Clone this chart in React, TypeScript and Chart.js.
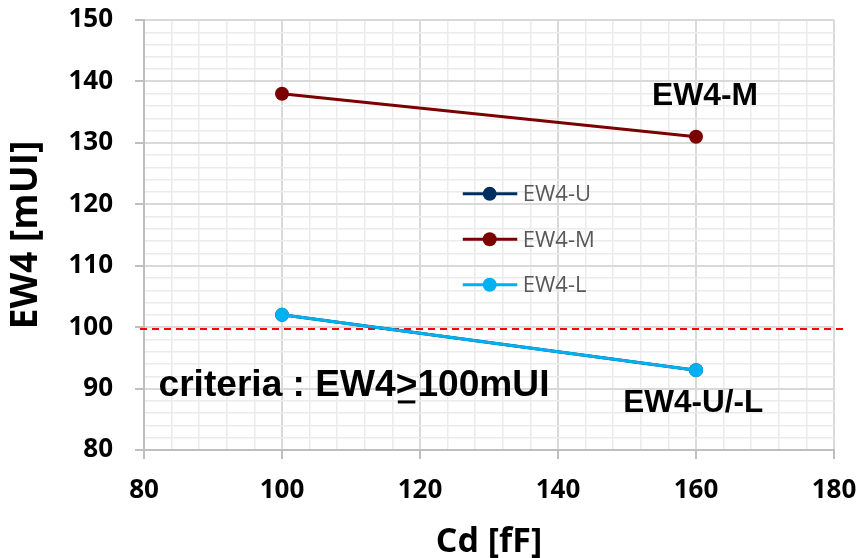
import React, { useEffect, useRef } from "react";
import { Chart, registerables } from "chart.js";

Chart.register(...registerables);

const cdValues = [100, 160];
const ew4U = [102, 93];
const ew4M = [138, 131];
const ew4L = [102, 93];
const seriesNames = ["EW4-U", "EW4-M", "EW4-L"];
const seriesColors = ["#002F5F", "#7B0000", "#00B0F0"];
const criteriaValue = 99.7;
const xRange = [80, 180];
const yRange = [80, 150];

const pts = (ys: number[]) => cdValues.map((x, i) => ({ x, y: ys[i] }));

const overlay = {
  id: "overlay",
  beforeDatasetsDraw(chart: any) {
    const { ctx } = chart;
    const ys = chart.scales.y;
    const y = ys.getPixelForValue(criteriaValue);
    ctx.save();
    ctx.strokeStyle = "#FF0000";
    ctx.lineWidth = 2;
    ctx.setLineDash([7, 5]);
    ctx.beginPath();
    ctx.moveTo(chart.chartArea.left - 4, y);
    ctx.lineTo(chart.chartArea.right + 11, y);
    ctx.stroke();
    ctx.restore();
  },
  afterDraw(chart: any) {
    const { ctx } = chart;
    const xs = chart.scales.x;
    const ys = chart.scales.y;
    const px = (v: number) => xs.getPixelForValue(v);
    const py = (v: number) => ys.getPixelForValue(v);

    // legend
    const legRows = [121.7, 114.3, 106.9];
    ctx.save();
    legRows.forEach((rv, i) => {
      const y = py(rv);
      const x0 = px(126.2);
      const x1 = px(134.1);
      const xm = px(130.1);
      ctx.strokeStyle = seriesColors[i];
      ctx.lineWidth = 3;
      ctx.beginPath();
      ctx.moveTo(x0, y);
      ctx.lineTo(x1, y);
      ctx.stroke();
      ctx.fillStyle = seriesColors[i];
      ctx.beginPath();
      ctx.arc(xm, y, 7, 0, Math.PI * 2);
      ctx.fill();
      ctx.fillStyle = "#595959";
      ctx.font = '22px "Open Sans"';
      ctx.textAlign = "left";
      ctx.textBaseline = "middle";
      ctx.fillText(seriesNames[i], px(134.9), y + 1);
    });
    ctx.restore();

    const font = 'bold 31px "Liberation Sans", Arial';
    const drawScaled = (text: string, cx: number, by: number, target: number) => {
      ctx.save();
      ctx.font = font;
      ctx.fillStyle = "#000";
      const w = ctx.measureText(text).width;
      const sx = target / w;
      ctx.translate(cx, by);
      ctx.scale(sx, 1);
      ctx.textAlign = "center";
      ctx.textBaseline = "alphabetic";
      ctx.fillText(text, 0, 0);
      ctx.restore();
    };
    drawScaled("EW4-M", px(161.3), py(136.2), 106);
    drawScaled("EW4-U/-L", px(159.6), py(86.2), 140);

    // criteria text
    ctx.save();
    ctx.font = 'bold 36px "Liberation Sans", Arial';
    ctx.fillStyle = "#000";
    ctx.strokeStyle = "#000";
    const parts = ["criteria : EW4", ">", "100mUI"];
    const widths = parts.map((p) => ctx.measureText(p).width);
    const total = widths.reduce((a, b) => a + b, 0);
    const sx = 391 / total;
    ctx.translate(px(82.1), py(88.8));
    ctx.scale(sx, 1);
    ctx.textAlign = "left";
    ctx.textBaseline = "alphabetic";
    let cx = 0;
    parts.forEach((p, i) => {
      ctx.fillText(p, cx, 0);
      if (i === 1) {
        ctx.lineWidth = 3;
        ctx.beginPath();
        ctx.moveTo(cx + 2, 6);
        ctx.lineTo(cx + widths[i] - 2, 6);
        ctx.stroke();
      }
      cx += widths[i];
    });
    ctx.restore();
  },
};

export default function App() {
  const ref = useRef<HTMLCanvasElement | null>(null);
  useEffect(() => {
    if (!ref.current) return;
    const ds = (label: string, data: number[], color: string, order: number) => ({
      label,
      data: pts(data),
      order,
      borderColor: color,
      backgroundColor: color,
      pointBackgroundColor: color,
      pointBorderColor: color,
      pointRadius: 7,
      pointBorderWidth: 0,
      borderWidth: 3,
      showLine: true,
      fill: false,
    });
    const isMajX = (c: any) => (c.tick?.value - 80) % 20 === 0;
    const isMajY = (c: any) => c.tick?.value % 10 === 0;
    const chart = new Chart(ref.current, {
      type: "scatter",
      data: {
        datasets: [
          ds(seriesNames[0], ew4U, seriesColors[0], 2),
          ds(seriesNames[1], ew4M, seriesColors[1], 1),
          ds(seriesNames[2], ew4L, seriesColors[2], 0),
        ],
      },
      options: {
        animation: false,
        responsive: false,
        layout: { padding: { top: 20, right: 28, bottom: 0, left: 0 } },
        plugins: { legend: { display: false }, tooltip: { enabled: false } },
        scales: {
          x: {
            type: "linear",
            min: xRange[0],
            max: xRange[1],
            afterFit: (s: any) => {
              s.height = 108;
              s.paddingLeft = 0;
              s.paddingRight = 0;
              s.paddingTop = 0;
              s.paddingBottom = 0;
            },
            ticks: {
              stepSize: 4,
              maxTicksLimit: 100,
              autoSkip: false,
              maxRotation: 0,
              padding: 16,
              color: "#000",
              font: { family: '"Open Sans"', size: 26, weight: "bold" },
              callback: (v: any) => ((v - 80) % 20 === 0 ? String(v) : ""),
            },
            grid: {
              color: (c: any) => (isMajX(c) ? "#D9D9D9" : "#EBEBEB"),
              tickColor: (c: any) => (isMajX(c) ? "#BFBFBF" : "rgba(0,0,0,0)"),
              lineWidth: (c: any) => (isMajX(c) ? 2 : 1.5),
              tickLength: 9,
              tickWidth: 2,
            },
            border: { color: "#BFBFBF", width: 2 },
            title: {
              display: true,
              text: "Cd [fF]",
              color: "#000",
              font: { family: '"Open Sans"', size: 34, weight: "bold" },
              padding: { top: 0, bottom: -5 },
            },
          },
          y: {
            type: "linear",
            min: yRange[0],
            max: yRange[1],
            afterFit: (s: any) => {
              s.width = 144;
              s.paddingLeft = 0;
              s.paddingRight = 0;
              s.paddingTop = 0;
              s.paddingBottom = 0;
            },
            ticks: {
              stepSize: 2,
              maxTicksLimit: 100,
              autoSkip: false,
              padding: 22,
              color: "#000",
              font: { family: '"Open Sans"', size: 26, weight: "bold" },
              callback: (v: any) => (v % 10 === 0 ? String(v) : ""),
            },
            grid: {
              color: (c: any) => (isMajY(c) ? "#D9D9D9" : "#EBEBEB"),
              tickColor: (c: any) => (isMajY(c) ? "#BFBFBF" : "rgba(0,0,0,0)"),
              lineWidth: (c: any) => (isMajY(c) ? 2 : 1.5),
              tickLength: 9,
              tickWidth: 2,
            },
            border: { color: "#BFBFBF", width: 2 },
            title: {
              display: true,
              text: "EW4 [mUI]",
              color: "#000",
              font: { family: '"Open Sans"', size: 37, weight: "bold" },
              padding: { top: 4, bottom: 0 },
            },
          },
        },
      },
      plugins: [overlay],
    } as any);
    return () => chart.destroy();
  }, []);
  return (
    <div style={{ position: "fixed", left: 0, top: 0, width: 862, height: 558, background: "#fff" }}>
      <canvas ref={ref} width={862} height={558} style={{ width: 862, height: 558 }} />
    </div>
  );
}
